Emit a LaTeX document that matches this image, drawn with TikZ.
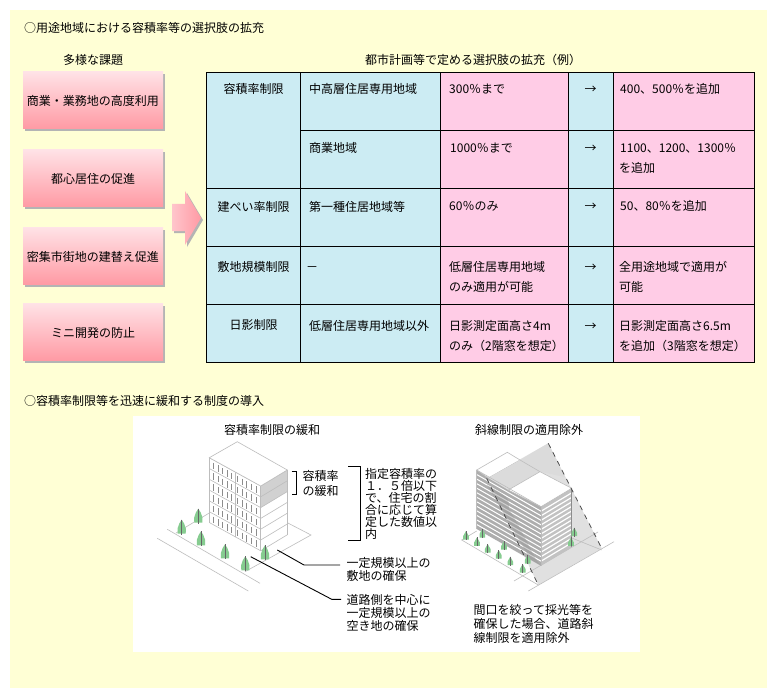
\documentclass[tikz,border=0pt]{standalone}
\usepackage{fontspec}
\setmainfont{Noto Sans CJK JP}
\usetikzlibrary{shadows,arrows.meta}
\definecolor{pagebg}{HTML}{FFFFD5}
\definecolor{cellblue}{HTML}{CCECF3}
\definecolor{cellpink}{HTML}{FFCCE6}
\definecolor{boxtop}{HTML}{FFE2E6}
\definecolor{boxbot}{HTML}{FF9AA4}
\definecolor{shadowgrey}{HTML}{B4B4B4}
\definecolor{linegrey}{HTML}{BDBDBD}
\definecolor{treegreen}{HTML}{86CC90}
\tikzset{
  label/.style = {inner sep=0pt, text height=11pt, text depth=1pt, font=\fontsize{12}{14}\selectfont},
  lefttext/.style = {label, anchor=west},
  notetext/.style = {inner sep=0pt, anchor=north west, align=left, font=\fontsize{12}{12.1}\selectfont},
  boxnode/.style = {label, minimum width=140pt, minimum height=57pt, top color=boxtop, bottom color=boxbot,
    drop shadow={shadow xshift=2pt, shadow yshift=-2pt, fill=shadowgrey, opacity=1}},
  bluecell/.style = {fill=cellblue, draw=black, line width=0.8pt},
  pinkcell/.style = {fill=cellpink, draw=black, line width=0.8pt},
  thinline/.style = {draw=linegrey, line width=0.6pt},
  leader/.style = {draw=black, line width=0.9pt},
  planedash/.style = {draw=black!70, line width=0.8pt, dash pattern=on 5pt off 5pt},
  tree/.pic = {
    \fill[treegreen] (0,-8) -- (2.5,-4) -- (4.2,1) -- (4,6) -- (-4,6) -- (-4.2,1) -- (-2.5,-4) -- cycle;
    \draw[black!60, line width=0.9pt] (0,-8) -- (0,7);
  },
  smalltree/.pic = {
    \fill[treegreen] (0,-5) -- (2.8,0) -- (2.8,3.5) -- (-2.8,3.5) -- (-2.8,0) -- cycle;
    \draw[black!60, line width=0.9pt] (0,-5) -- (0,4);
  }
}
\begin{document}
\begin{tikzpicture}[x=1pt, y=-1pt]
  \fill[white] (0,0) rectangle (777,698);
  \useasboundingbox (0,0) rectangle (777,698);
  \fill[pagebg] (10,10) rectangle (767,688);

  % headings
  \node[lefttext] (titleA) at (24,28) {○用途地域における容積率等の選択肢の拡充};
  \node[label] (headA) at (93,60) {多様な課題};
  \node[label] (headB) at (473,60) {都市計画等で定める選択肢の拡充（例）};
  \node[lefttext] (titleB) at (24,400.5) {○容積率制限等を迅速に緩和する制度の導入};

  % left boxes
  \node[boxnode] (issueA) at (93,100.5) {商業・業務地の高度利用};
  \node[boxnode] (issueB) at (93,178.5) {都心居住の促進};
  \node[boxnode] (issueC) at (93,256) {密集市街地の建替え促進};
  \node[boxnode] (issueD) at (93,332) {ミニ開発の防止};

  % block arrow
  \fill[shadowgrey] (174,206) -- (187,206) -- (187,193) -- (203,220) -- (187,247) -- (187,233) -- (174,233) -- cycle;
  \shade[left color=boxtop!60!boxbot, right color=boxbot] (172,204) -- (185,204) -- (185,191) -- (201,218) -- (185,245) -- (185,231) -- (172,231) -- cycle;

  % table
  \draw[bluecell] (206.5,72) rectangle (300.5,188);
  \foreach \ytop/\ybot in {188/246,246/304,304/362}
    \draw[bluecell] (206.5,\ytop) rectangle (300.5,\ybot);
  \foreach \ytop/\ybot in {72/130,130/188,188/246,246/304,304/362} {
    \draw[bluecell] (300.5,\ytop) rectangle (440.5,\ybot);
    \draw[pinkcell] (440.5,\ytop) rectangle (568.5,\ybot);
    \draw[bluecell] (568.5,\ytop) rectangle (613.5,\ybot);
    \draw[pinkcell] (613.5,\ytop) rectangle (754.5,\ybot);
  }

  \node[label] (limitA) at (253.5,88.5) {容積率制限};
  \node[label] (limitB) at (253.5,206.5) {建ぺい率制限};
  \node[label] (limitC) at (253.5,266) {敷地規模制限};
  \node[label] (limitD) at (253.5,324.5) {日影制限};

  \node[lefttext] (zoneA) at (309,88.5) {中高層住居専用地域};
  \node[lefttext] (zoneB) at (309,147.5) {商業地域};
  \node[lefttext] (zoneC) at (309,206.5) {第一種住居地域等};
  \node[lefttext] (zoneD) at (306,266) {－};
  \node[lefttext] (zoneE) at (309,325) {低層住居専用地域以外};

  \node[lefttext] (nowA) at (449,89) {300％まで};
  \node[lefttext] (nowB) at (450,147.5) {1000％まで};
  \node[lefttext] (nowC) at (449,206) {60％のみ};
  \node[lefttext] (nowD) at (449,266) {低層住居専用地域};
  \node[lefttext] (nowDb) at (449,286) {のみ適用が可能};
  \node[lefttext] (nowE) at (449,325) {日影測定面高さ4m};
  \node[lefttext] (nowEb) at (449,345) {のみ（2階窓を想定）};

  \foreach \ypos/\name in {88.5/a,147.5/b,206/c,266/d,325/e}
    \node[label] (arrow\name) at (590.5,\ypos) {→};

  \node[lefttext] (newA) at (620,89) {400、500％を追加};
  \node[lefttext] (newB) at (620,147.5) {1100、1200、1300％};
  \node[lefttext] (newBb) at (619,168) {を追加};
  \node[lefttext] (newC) at (620,206) {50、80％を追加};
  \node[lefttext] (newD) at (619,266) {全用途地域で適用が};
  \node[lefttext] (newDb) at (619,286) {可能};
  \node[lefttext] (newE) at (619,325) {日影測定面高さ6.5m};
  \node[lefttext] (newEb) at (619,345) {を追加（3階窓を想定）};

  % white panel
  \fill[white] (133,416) rectangle (640,652);
  \node[label] (capA) at (272,429) {容積率制限の緩和};
  \node[label] (capB) at (529,429) {斜線制限の適用除外};

  % first building: ground
  \draw[thinline] (167.3,529.3) -- (260,583.3);
  \draw[thinline] (157.3,538.3) -- (248.3,591);
  \draw[thinline] (209.3,513) -- (176,533);
  \draw[thinline] (245,571.7) -- (311,535) -- (287.3,522.7);

  % first building: left face
  \begin{scope}[shift={(209.3,457.7)}, x={(51.4pt,-28.3pt)}, y={(0pt,-10.8pt)}]
    \fill[white] (0,0) -- (1,0) -- (1,6) -- (0,6) -- cycle;
    \foreach \f in {0,...,6}
      \draw[thinline] (0,\f) -- (1,\f);
    \foreach \f in {0,...,5}
      \foreach \u in {0.08,0.17,0.26,0.35,0.44,0.55,0.64,0.73,0.82,0.91}
        \draw[black!45, line width=1pt] (\u,\f+0.25) -- (\u,\f+0.85);
    \draw[thinline] (0,0) -- (0,6) (0.5,0) -- (0.5,6) (1,0) -- (1,6);
  \end{scope}

  % first building: right face
  \begin{scope}[shift={(260.7,486)}, x={(26.6pt,16pt)}, y={(0pt,-10.8pt)}]
    \fill[white] (0,0) -- (1,0) -- (1,6) -- (0,6) -- cycle;
    \fill[black!18] (0,0) -- (1,0) -- (1,2) -- (0,2) -- cycle;
    \foreach \f in {0,...,6}
      \draw[thinline] (0,\f) -- (1,\f);
    \draw[thinline] (0,0) -- (0,6) (1,0) -- (1,6);
  \end{scope}

  % first building: roof
  \draw[thinline, fill=white] (237.3,441.7) -- (209.3,457.7) -- (260.7,486) -- (287.3,470) -- cycle;

  \foreach \tx/\ty in {181.7/527.7,198.3/516.7,201/539.3,225/552.3,245.3/564.3,265/553.3}
    \pic at (\tx,\ty) {tree};

  % brackets and notes
  \draw[black, line width=0.9pt] (291.7,471.7) -- (296.7,471.7) -- (296.7,494) -- (291.7,494);
  \draw[black, line width=0.9pt] (348.3,466.7) -- (360,466.7) -- (360,540.7) -- (348.3,540.7);
  \node[lefttext] (ratioA) at (302.5,475.5) {容積率};
  \node[lefttext] (ratioB) at (302.5,490) {の緩和};
  \node[notetext] (ratioNote) at (365,468)
    {指定容積率の\\１．５倍以下\\で、住宅の割\\合に応じて算\\定した数値以\\内};

  \node[lefttext] (siteA) at (346.5,562.5) {一定規模以上の};
  \node[lefttext] (siteB) at (346.5,575) {敷地の確保};
  \node[lefttext] (openA) at (346.5,599.5) {道路側を中心に};
  \node[lefttext] (openB) at (346.5,612) {一定規模以上の};
  \node[lefttext] (openC) at (346.5,625) {空き地の確保};

  \coordinate (siteEnd) at (277.3,550);
  \coordinate (siteBend) at (304,565);
  \coordinate (siteStop) at (340,565);
  \coordinate (openEnd) at (250.7,556.7);
  \coordinate (openBend) at (331.7,599.3);
  \coordinate (openStop) at (341,599.3);
  \draw[leader] (siteEnd) -- (siteBend) -- (siteStop);
  \draw[leader] (openEnd) -- (openBend) -- (openStop);

  % second building: ground and sloping plane
  \fill[black!12] (486.7,478.3) -- (548.3,443.3) -- (601.7,548.3) -- (538.3,585) -- cycle;
  \draw[thinline] (476.7,531) -- (461.7,540) -- (538.3,585);
  \draw[thinline] (514,581) -- (598,532);
  \draw[thinline] (571.7,538) -- (601.7,550);
  \draw[thinline] (528.3,591) -- (614,541.7);

  % second building: left face
  \begin{scope}[shift={(476.7,470)}, x={(64.3pt,-36.7pt)}, y={(0pt,-4.54pt)}]
    \fill[black!32] (0,0) -- (1,0) -- (1,13) -- (0,13) -- cycle;
    \foreach \f in {1,...,12}
      \draw[white, line width=1pt] (0,\f) -- (1,\f);
    \fill[black!40, opacity=0.45] (0.16,2) .. controls (0.5,2) and (0.5,2) .. (0.5,4.4)
      .. controls (0.85,10) and (0.85,12) .. (1,13) -- (0.84,13) -- cycle;
    \draw[thinline] (0,0) -- (0,13) (1,0) -- (1,13);
  \end{scope}

  % second building: right face
  \begin{scope}[shift={(541,506.7)}, x={(30.7pt,18.4pt)}, y={(0pt,-4.54pt)}]
    \fill[black!24] (0,0) -- (1,0) -- (1,13) -- (0,13) -- cycle;
    \foreach \f in {1,...,12}
      \draw[white, line width=1.2pt] (0,\f) -- (1,\f);
    \draw[thinline] (0,0) -- (0,13);
    \draw[black!45, line width=0.7pt] (1,0) -- (1,13);
  \end{scope}

  % second building: roof
  \draw[thinline, fill=white] (476.7,470) -- (507.3,452.3) -- (520,460) -- (488.3,478) -- cycle;
  \fill[black!14] (488.3,478) -- (520,460) -- (548.3,443.3) -- (565,477) -- (540,471.7) -- (508.3,490) -- cycle;
  \draw[thinline, fill=white] (508.3,490) -- (540,471.7) -- (571.7,488.3) -- (541,506.7) -- cycle;
  \draw[thinline] (520,460) -- (540,471.7);
  \draw[thinline] (476.7,470) -- (541,506.7);

  % second building: dashed edges of the plane
  \draw[planedash] (486.7,478.3) -- (538.3,585);
  \draw[planedash] (548.3,443.3) -- (601.7,548.3);

  \foreach \tx/\ty in {466/536,482.3/534,477/542.3,487.7/549,504/546,498.7/555,510.3/561.7,527.7/560,522.7/569,571/542.3,574.3/532.7}
    \pic at (\tx,\ty) {smalltree};

  \node[lefttext] (exemptA) at (473.5,609) {間口を絞って採光等を};
  \node[lefttext] (exemptB) at (473.5,623.5) {確保した場合、道路斜};
  \node[lefttext] (exemptC) at (473.5,637.5) {線制限を適用除外};
\end{tikzpicture}
\end{document}
